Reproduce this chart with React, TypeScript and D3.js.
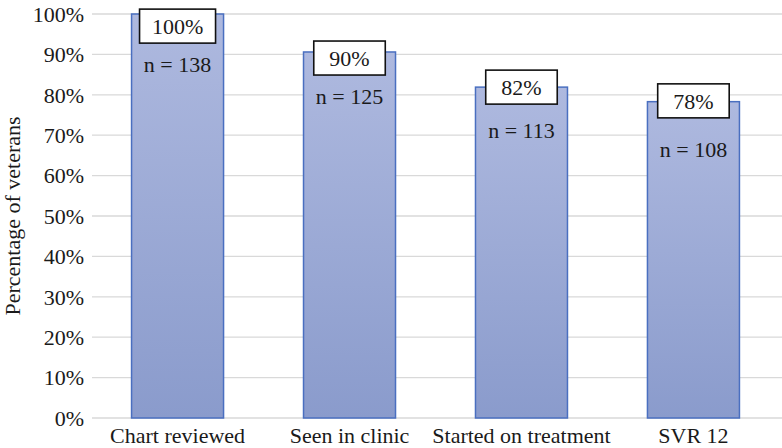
import React from "react";
import * as d3 from "d3";

const categories = ["Chart reviewed", "Seen in clinic", "Started on treatment", "SVR 12"];
const values = [100, 90.6, 81.9, 78.3];
const pctLabels = ["100%", "90%", "82%", "78%"];
const nLabels = ["n = 138", "n = 125", "n = 113", "n = 108"];
// annotation anchors, in y-axis units (%)
const pctLabelAt = [97.0, 89.1, 81.9, 78.5];
const nLabelAt = [85.6, 77.7, 69.3, 64.6];
const yTicks = [0, 10, 20, 30, 40, 50, 60, 70, 80, 90, 100];

const W = 782;
const H = 448;
const FONT = "Liberation Serif, Times New Roman, Tinos, Noto Serif, DejaVu Serif, serif";

export default function App() {
  const x = d3
    .scaleBand<string>()
    .domain(categories)
    .range([92, 779])
    .paddingInner(0.465)
    .paddingOuter(0.23);
  const y = d3.scaleLinear().domain([0, 100]).range([418, 14]);

  return (
    <div style={{ position: "absolute", left: 0, top: 0 }}>
      <svg width={W} height={H} style={{ display: "block", background: "#ffffff", fontFamily: FONT }}>
        <defs>
          <linearGradient id="barGrad" x1="0" y1="0" x2="0" y2="1">
            <stop offset="0%" stopColor="#aeb9df" />
            <stop offset="100%" stopColor="#8a9bcc" />
          </linearGradient>
        </defs>
        {yTicks.map((t) => (
          <g key={t}>
            <line x1={92} x2={782} y1={y(t)} y2={y(t)} stroke="#d9d9d9" strokeWidth={1.3} />
            <text x={84} y={y(t)} dy="0.35em" textAnchor="end" fontSize={22} fill="#1a1a1a">
              {t}%
            </text>
          </g>
        ))}
        <text
          transform={`translate(20,${(y(0) + y(100)) / 2}) rotate(-90)`}
          textAnchor="middle"
          fontSize={22}
          fill="#1a1a1a"
        >
          Percentage of veterans
        </text>
        {categories.map((c, i) => {
          const bx = x(c)!;
          const bw = x.bandwidth();
          const cx = bx + bw / 2;
          const boxW = 58 + pctLabels[i].length * 4.5;
          const boxH = 34;
          const by = y(pctLabelAt[i]);
          return (
            <g key={c}>
              <rect
                x={bx}
                y={y(values[i])}
                width={bw}
                height={y(0) - y(values[i])}
                fill="url(#barGrad)"
                stroke="#4a6fc0"
                strokeWidth={1.5}
              />
              <rect
                x={cx - boxW / 2}
                y={by - boxH / 2}
                width={boxW}
                height={boxH}
                fill="#ffffff"
                stroke="#111"
                strokeWidth={1.6}
              />
              <text x={cx} y={by} dy="0.35em" textAnchor="middle" fontSize={22} fill="#1a1a1a">
                {pctLabels[i]}
              </text>
              <text x={cx} y={y(nLabelAt[i])} textAnchor="middle" fontSize={22} fill="#1a1a1a">
                {nLabels[i]}
              </text>
              <text x={cx} y={443} textAnchor="middle" fontSize={22} fill="#1a1a1a">
                {c}
              </text>
            </g>
          );
        })}
      </svg>
    </div>
  );
}
